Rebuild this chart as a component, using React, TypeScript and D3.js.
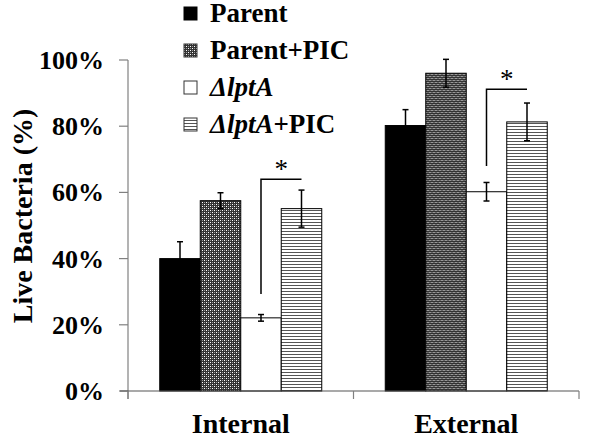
import React from "react";
import * as d3 from "d3";

const categories = ["Internal", "External"];
const seriesNames = ["Parent", "Parent+PIC", "ΔlptA", "ΔlptA+PIC"];
const parentVals = [40, 80.2];
const parentPicVals = [57.5, 96];
const lptAVals = [22.1, 60.2];
const lptAPicVals = [55.1, 81.3];
const parentErr = [5.1, 4.8];
const parentPicErr = [2.4, 4.2];
const lptAErr = [1.0, 2.8];
const lptAPicErr = [5.6, 5.7];
const sigLow = [29.3, 68];
const sigHigh = [64, 91.2];
const yTicks = [0, 20, 40, 60, 80, 100];

const W = 600;
const H = 445;
const FONT = "'Liberation Serif', 'Times New Roman', serif";

export default function App() {
  const x0 = d3.scaleBand<string>().domain(categories).range([128, 579]).paddingInner(0).paddingOuter(0);
  const x1 = d3.scaleBand<string>().domain(seriesNames).range([0, x0.bandwidth()]).paddingInner(0).paddingOuter(0.784);
  const y = d3.scaleLinear().domain([0, 100]).range([391, 60]);

  const values = [parentVals, parentPicVals, lptAVals, lptAPicVals];
  const errs = [parentErr, parentPicErr, lptAErr, lptAPicErr];
  const fills = ["#000", "url(#checker)", "#fff", "url(#stripes)"];

  const legendX = 184;
  const legendBase = [22, 59, 96, 133];

  return (
    <svg width={W} height={H} style={{ position: "absolute", left: 0, top: 0, background: "#fff" }} fontFamily={FONT}>
      <defs>
        <pattern id="checker" width={4} height={4} patternUnits="userSpaceOnUse">
          <rect width={4} height={4} fill="#333" />
          <rect x={0} y={0} width={1} height={1} fill="#fff" />
          <rect x={2} y={2} width={1} height={1} fill="#fff" />
          <rect x={2} y={0} width={1} height={1} fill="#999" />
          <rect x={0} y={2} width={1} height={1} fill="#999" />
        </pattern>
        <pattern id="stripes" width={4} height={3} patternUnits="userSpaceOnUse">
          <rect width={4} height={3} fill="#fff" />
          <rect x={0} y={0} width={4} height={1} fill="#555" />
        </pattern>
      </defs>

      {/* y axis */}
      <line x1={128} x2={128} y1={60} y2={399} stroke="#808080" strokeWidth={1.2} />
      {yTicks.map((t) => (
        <g key={t}>
          <line x1={119} x2={128} y1={y(t)} y2={y(t)} stroke="#808080" strokeWidth={1.2} />
          <text x={104} y={y(t) + 9} textAnchor="end" fontSize={26} fontWeight="bold">
            {t + "%"}
          </text>
        </g>
      ))}
      <text
        transform={`translate(32,216) rotate(-90)`}
        textAnchor="middle"
        fontSize={28}
        fontWeight="bold"
      >
        Live Bacteria (%)
      </text>

      {/* bars */}
      {categories.map((c, ci) => (
        <g key={c} transform={`translate(${x0(c)},0)`}>
          {seriesNames.map((s, si) => {
            const v = values[si][ci];
            const bx = x1(s)!;
            const bw = x1.bandwidth();
            return (
              <rect
                key={s}
                x={bx}
                y={y(v)}
                width={bw}
                height={y(0) - y(v)}
                fill={fills[si]}
                stroke="#000"
                strokeWidth={1}
              />
            );
          })}
          {seriesNames.map((s, si) => {
            const v = values[si][ci];
            const e = errs[si][ci];
            const cx = x1(s)! + x1.bandwidth() / 2;
            return (
              <g key={s + "e"} stroke="#000" strokeWidth={1.5}>
                <line x1={cx} x2={cx} y1={y(v + e)} y2={y(v - e)} />
                <line x1={cx - 3} x2={cx + 3} y1={y(v + e)} y2={y(v + e)} />
                <line x1={cx - 3} x2={cx + 3} y1={y(v - e)} y2={y(v - e)} />
              </g>
            );
          })}
          {(() => {
            const xa = x1(seriesNames[2])! + x1.bandwidth() / 2;
            const xb = x1(seriesNames[3])! + x1.bandwidth() / 2;
            return (
              <g>
                <polyline
                  points={`${xa},${y(sigLow[ci])} ${xa},${y(sigHigh[ci])} ${xb},${y(sigHigh[ci])}`}
                  fill="none"
                  stroke="#000"
                  strokeWidth={1.5}
                />
                <text x={(xa + xb) / 2} y={y(sigHigh[ci]) - 1} textAnchor="middle" fontSize={27}>
                  *
                </text>
              </g>
            );
          })()}
        </g>
      ))}

      {/* x axis */}
      <line x1={120} x2={579} y1={391} y2={391} stroke="#555" strokeWidth={1.2} />
      {[128, ...categories.map((c) => x0(c)! + x0.bandwidth())].map((tx, i) => (
        <line key={i} x1={tx} x2={tx} y1={391} y2={399} stroke="#808080" strokeWidth={1.2} />
      ))}
      {categories.map((c) => (
        <text key={c} x={x0(c)! + x0.bandwidth() / 2} y={433} textAnchor="middle" fontSize={28} fontWeight="bold">
          {c}
        </text>
      ))}

      {/* legend */}
      {seriesNames.map((s, i) => (
        <g key={s}>
          <rect
            x={legendX}
            y={legendBase[i] - 15}
            width={13}
            height={13}
            fill={fills[i]}
            stroke={i === 0 ? "#000" : "#333"}
            strokeWidth={1}
          />
          <text x={210} y={legendBase[i]} fontSize={27} fontWeight="bold">
            {s.startsWith("Δ") ? (
              <>
                <tspan fontStyle="italic">ΔlptA</tspan>
                <tspan>{s.slice(5)}</tspan>
              </>
            ) : (
              s
            )}
          </text>
        </g>
      ))}
    </svg>
  );
}
